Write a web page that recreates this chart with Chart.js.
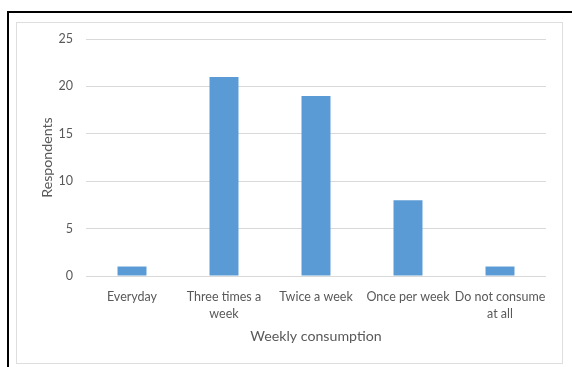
<!DOCTYPE html>
<html>
<head>
<meta charset="utf-8">
<script src="https://cdn.jsdelivr.net/npm/chart.js@4/dist/chart.umd.min.js"></script>
<style>
  html, body { margin: 0; padding: 0; background: #ffffff; }
  body { width: 572px; height: 367px; position: relative; overflow: hidden; }
  .frame {
    position: absolute; left: 7px; top: 11px; width: 600px; height: 400px;
    border-top: 2px solid #000; border-left: 2px solid #000;
  }
  .panel {
    position: absolute; left: 16px; top: 22px; width: 545px; height: 340px;
    border: 1px solid #dedede; background: #fff;
  }
  #chart { position: absolute; left: 0; top: 0; }
</style>
</head>
<body>
<div class="frame"></div>
<div class="panel"></div>
<canvas id="chart" width="572" height="367"></canvas>
<script>
// Weekly consumption survey
const categories = [
  'Everyday',
  ['Three times a', 'week'],
  'Twice a week',
  'Once per week',
  ['Do not consume', 'at all']
];
const respondents = [1, 21, 19, 8, 1];
const yTicks = [0, 5, 10, 15, 20, 25];

const FONT = 'Lato, "Open Sans", sans-serif';
const TEXT = '#595959';

new Chart(document.getElementById('chart'), {
  type: 'bar',
  data: {
    labels: categories,
    datasets: [{
      label: 'Respondents',
      data: respondents,
      backgroundColor: '#5B9BD5',
      borderWidth: 0,
      categoryPercentage: 1,
      barPercentage: 0.315
    }]
  },
  options: {
    responsive: false,
    animation: false,
    devicePixelRatio: 1,
    layout: { padding: { left: 0, top: 39, right: 26, bottom: 0 } },
    plugins: { legend: { display: false }, tooltip: { enabled: false } },
    scales: {
      x: {
        grid: { display: false, drawTicks: false },
        border: { display: false },
        ticks: {
          color: TEXT, padding: 12, maxRotation: 0, autoSkip: false,
          font: { family: FONT, size: 12.5, lineHeight: 1.36 }
        },
        title: {
          display: true, text: 'Weekly consumption', color: TEXT,
          font: { family: FONT, size: 14.2 }, padding: { top: 0, bottom: 22 }
        },
        afterFit(scale) { scale.height = 91; }
      },
      y: {
        min: 0, max: 25,
        afterBuildTicks(scale) { scale.ticks = yTicks.map(v => ({ value: v })); },
        grid: { color: '#d9d9d9', drawTicks: false, lineWidth: 1 },
        border: { display: false },
        ticks: {
          color: TEXT, padding: 13,
          font: { family: FONT, size: 12.5 }
        },
        title: {
          display: true, text: 'Respondents', color: TEXT,
          font: { family: FONT, size: 14.2 }, padding: { top: 39, bottom: 0 }
        },
        afterFit(scale) { scale.width = 86; }
      }
    }
  }
});
</script>
</body>
</html>
